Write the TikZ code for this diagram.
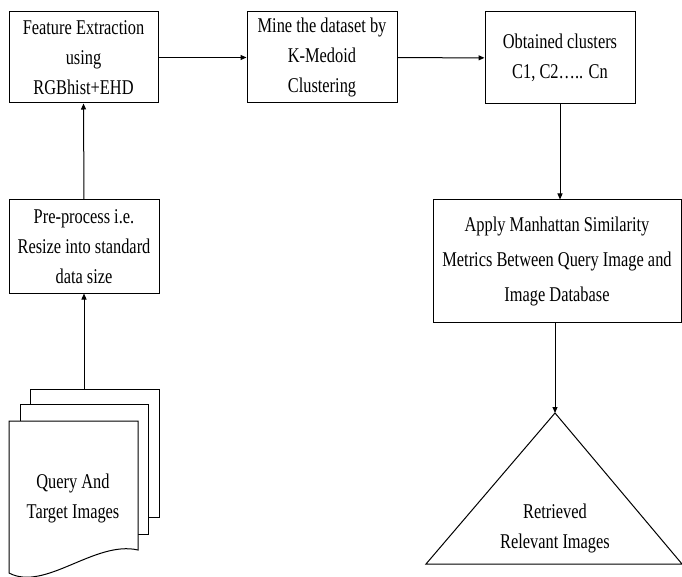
\documentclass[tikz,border=0pt]{standalone}
\usepackage{fontspec}
\setmainfont{Liberation Serif}[FakeStretch=0.78]
\usetikzlibrary{arrows.meta}

\tikzset{
	procbox/.style={draw, line width=1pt, fill=white, align=center, inner sep=2pt},
	flow/.style={line width=1pt, -{Triangle[length=6pt,width=5pt]}},
	page/.style={draw, line width=1pt, fill=white}
}

\begin{document}
\begin{tikzpicture}[x=1pt, y=-1pt, font=\fontsize{21}{30}\selectfont]
	\useasboundingbox (0,0) rectangle (682,577);

	\node [procbox, minimum width=149pt, minimum height=91pt] (feat) at (83.5,57.5) {Feature Extraction\\using\\RGBhist+EHD};
	\node [procbox, minimum width=150pt, minimum height=91pt] (mine) at (322,57.5) {Mine the dataset by\\K-Medoid\\Clustering};
	\node [procbox, minimum width=150pt, minimum height=92pt] (clus) at (560,58) {Obtained clusters\\C1, C2….. Cn};
	\node [procbox, minimum width=150pt, minimum height=93pt] (prep) at (84,246.5) {Pre-process i.e.\\Resize into standard\\data size};
	\node [procbox, minimum width=248pt, minimum height=122pt, font=\fontsize{21}{35}\selectfont] (apply) at (557,261) {Apply Manhattan Similarity\\Metrics Between Query Image and\\Image Database};

	% stack of pages
	\draw [page] (30,389) rectangle (159,517);
	\draw [page] (20,404) rectangle (148,534);
	\draw [page] (9,421) -- (138,421) -- (138,550) .. controls (95,540) and (45,592) .. (9,573) -- cycle;
	\coordinate (docs top) at (84,389);
	\node [align=center] (docs) at (73,498) {Query And\\Target Images};

	% result triangle
	\coordinate (apex) at (555,413);
	\draw [line width=1pt] (apex) -- (682,564) -- (426,564) -- cycle;
	\node [align=center] (res) at (555,528) {Retrieved\\Relevant Images};

	\draw [flow] (feat) -- (mine);
	\draw [flow] (mine) -- (clus);
	\draw [flow] (clus.south) -- (clus.south |- apply.north);
	\draw [flow] (apply.south -| apex) -- (apex);
	\draw [flow] (prep.north) -- (feat.south);
	\draw [flow] (docs top) -- (prep.south);
\end{tikzpicture}
\end{document}
